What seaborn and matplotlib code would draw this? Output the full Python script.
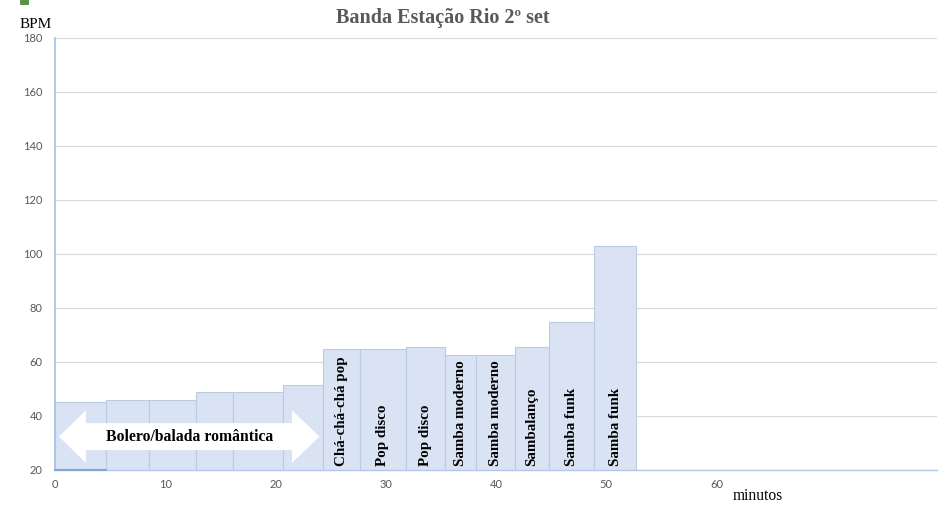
import matplotlib
matplotlib.use("Agg")
import matplotlib.pyplot as plt
from matplotlib.patches import Polygon, Rectangle
import seaborn as sns
import numpy as np

# Set timeline: start/end minute of each song and its tempo
edges_min = [0, 4.6, 8.5, 12.75, 16.1, 20.7, 24.3, 27.7, 31.8, 35.4, 38.2, 41.7, 44.8, 48.9, 52.7]
bpm = [45.2, 45.6, 45.6, 48.6, 48.6, 51.2, 64.5, 64.5, 65.6, 62.6, 62.6, 65.3, 74.7, 102.8]
genres = ["", "", "", "", "", "",
          "Chá-chá-chá pop", "Pop disco", "Pop disco", "Samba moderno",
          "Samba moderno", "Sambalanço", "Samba funk", "Samba funk"]
arrow_label = "Bolero/balada romântica"

y_ticks = [20, 40, 60, 80, 100, 120, 140, 160, 180]
x_ticks = [0, 10, 20, 30, 40, 50, 60, 70, 80]
x_tick_labels = ["0", "10", "20", "30", "40", "50", "60", "", ""]

title = "Banda Estação Rio 2º set"
y_title = "BPM"
x_title = "minutos"

sns.set_theme(style="white")
plt.rcParams["font.family"] = ["DejaVu Sans"]

fig = plt.figure(figsize=(9.48, 5.05), dpi=100)
ax = fig.add_axes([55 / 948, 1 - 469.5 / 505, (937 - 55) / 948, (469.5 - 38) / 505])

mids = [(a + b) / 2 for a, b in zip(edges_min[:-1], edges_min[1:])]
sns.histplot(x=mids, weights=bpm, bins=edges_min, ax=ax,
             stat="count", color="#dae3f3", alpha=1.0,
             edgecolor="#bccbe2", linewidth=0.8, zorder=2)

ax.set_xlim(0, 80)
ax.set_ylim(20, 180)
ax.set_yticks(y_ticks)
ax.set_xticks(x_ticks)
ax.set_xticklabels(x_tick_labels)
ax.set_xlabel("")
ax.set_ylabel("")
ax.grid(axis="y", color="#d9d9d9", linewidth=0.8, zorder=0)
ax.set_axisbelow(True)

for side in ["top", "right"]:
    ax.spines[side].set_visible(False)
ax.spines["left"].set_color("#9dc3e6")
ax.spines["left"].set_linewidth(1.2)
ax.spines["bottom"].set_color("#b4c7e7")
ax.spines["bottom"].set_linewidth(1.0)

ax.tick_params(axis="y", length=0, pad=9, labelsize=8, labelcolor="#595959")
ax.tick_params(axis="x", length=3, color="#d9d9d9", pad=4, labelsize=8,
               labelcolor="#595959", direction="out")
for lab in ax.get_xticklabels() + ax.get_yticklabels():
    lab.set_fontfamily("Lato")

# genre names written vertically inside each bar
for m, g in zip(mids, genres):
    if g:
        ax.text(m, 21.2, g, rotation=90, ha="center", va="bottom",
                fontsize=10.8, fontweight="bold", family="Liberation Serif",
                color="black", zorder=5)

# double-headed white arrow over the opening ballads
xl, xhl, xhr, xr = 0.36, 2.8, 21.5, 24.0
yc, sh, hh = 32.2, 5.0, 9.7
arrow = Polygon([
    (xl, yc), (xhl, yc + hh), (xhl, yc + sh), (xhr, yc + sh), (xhr, yc + hh),
    (xr, yc), (xhr, yc - hh), (xhr, yc - sh), (xhl, yc - sh), (xhl, yc - hh)],
    closed=True, facecolor="white", edgecolor="none", zorder=4)
ax.add_patch(arrow)
ax.text((xl + xr) / 2, yc, arrow_label, ha="center", va="center",
        fontsize=11.3, fontweight="bold", family="Liberation Serif",
        color="black", zorder=5)

# baseline segment under the first bar
ax.plot([edges_min[0], edges_min[1]], [20, 20], color="#7fa7d6",
        linewidth=1.5, zorder=3, clip_on=False)

fig.text(443 / 948, 1 - 18 / 505, title, ha="center", va="center",
         fontsize=14.5, fontweight="bold", family="Liberation Serif",
         color="#595959")
fig.text(36 / 948, 1 - 25 / 505, y_title, ha="center", va="center",
         fontsize=11, family="Liberation Serif", color="black")
fig.text(758 / 948, 1 - 496 / 505, x_title, ha="center", va="center",
         fontsize=11.2, family="Liberation Serif", color="black")

# small green workbook icon at the top-left corner
fig.add_artist(Rectangle((20 / 948, 1 - 4 / 505), 8 / 948, 4 / 505,
                         transform=fig.transFigure, facecolor="#4e9a3c",
                         edgecolor="#3a7a2c", linewidth=0.5))

fig.savefig("out.png", dpi=100)
